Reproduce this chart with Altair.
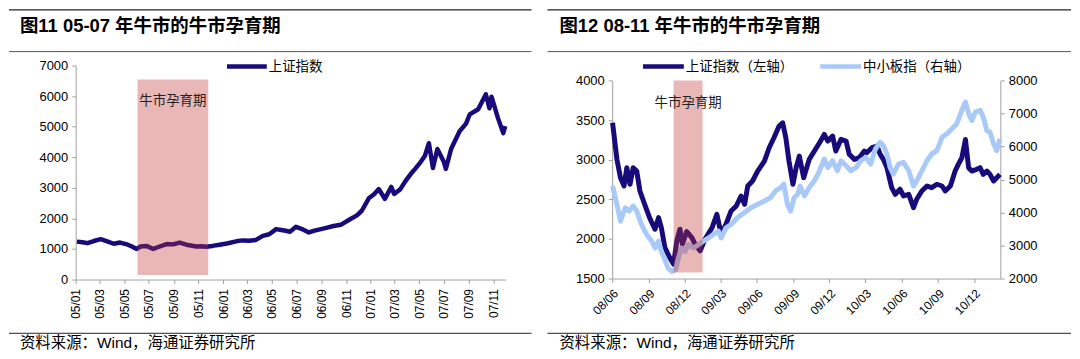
import altair as alt
import pandas as pd

FONT = "Liberation Sans, Noto Sans CJK SC"
NAVY = "#170B7B"
LIGHT = "#A9C9F9"
SHADE = "#C0302F"
AX = "#A0A0A0"

# ---------------- left panel data (上证指数 2005-2007) ----------------
l_dates = [
    "2005-01-04", "2005-01-18", "2005-01-30", "2005-02-15", "2005-03-04", "2005-03-20",
    "2005-04-05", "2005-04-21", "2005-05-10", "2005-05-20", "2005-06-01", "2005-06-10",
    "2005-06-25", "2005-07-12", "2005-07-28", "2005-08-14", "2005-08-30", "2005-09-15",
    "2005-10-02", "2005-10-27", "2005-11-08", "2005-11-20", "2005-12-05", "2005-12-23",
    "2006-01-10", "2006-02-02", "2006-02-18", "2006-03-07", "2006-03-22", "2006-04-09",
    "2006-04-25", "2006-05-12", "2006-05-25", "2006-06-05", "2006-06-15", "2006-06-30",
    "2006-07-15", "2006-08-01", "2006-08-15", "2006-09-13", "2006-10-01", "2006-10-19",
    "2006-11-12", "2006-11-28", "2006-12-10", "2006-12-28", "2007-01-10", "2007-01-21",
    "2007-02-05", "2007-02-21", "2007-02-28", "2007-03-15", "2007-03-28", "2007-04-10",
    "2007-04-21", "2007-05-05", "2007-05-15", "2007-05-25", "2007-06-04", "2007-06-15",
    "2007-07-01", "2007-07-06", "2007-07-19", "2007-08-09", "2007-08-25", "2007-09-03",
    "2007-09-24", "2007-10-13", "2007-10-22", "2007-10-27", "2007-11-12", "2007-11-25",
    "2007-11-30",
]
l_sh = [
    1240, 1220, 1190, 1260, 1320, 1250,
    1170, 1210, 1140, 1080, 1000, 1080,
    1100, 1000, 1080, 1160, 1150, 1210,
    1140, 1080, 1090, 1075, 1100, 1140,
    1180, 1250, 1280, 1270, 1290, 1430,
    1480, 1650, 1620, 1596, 1560, 1726,
    1650, 1540, 1600, 1690, 1750, 1790,
    1980, 2100, 2250, 2670, 2800, 2960,
    2640, 3030, 2800, 2950, 3220, 3450,
    3620, 3850, 4040, 4460, 3650, 4270,
    3850, 3620, 4270, 4850, 5100, 5400,
    5570, 6060, 5600, 5980, 5280, 4790,
    5020,
]
l_period = ["2005-06-03", "2005-11-25"]
l_period_range = [150, 6540]
l_ticks = ["2005-01", "2005-03", "2005-05", "2005-07", "2005-09", "2005-11",
           "2006-01", "2006-03", "2006-05", "2006-07", "2006-09", "2006-11",
           "2007-01", "2007-03", "2007-05", "2007-07", "2007-09", "2007-11"]

# ---------------- right panel data (2008-2011) ----------------
r_sh_dates = [
    "2008-06-02", "2008-06-13", "2008-06-22", "2008-07-01", "2008-07-08", "2008-07-16",
    "2008-07-24", "2008-08-02", "2008-08-10", "2008-08-19", "2008-08-28", "2008-09-05",
    "2008-09-17", "2008-09-26", "2008-10-03", "2008-10-12", "2008-10-24", "2008-11-03",
    "2008-11-11", "2008-11-19", "2008-11-25", "2008-12-06", "2008-12-19", "2008-12-27",
    "2009-01-09", "2009-01-21", "2009-02-08", "2009-02-20", "2009-03-03", "2009-03-15",
    "2009-03-28", "2009-04-10", "2009-04-22", "2009-05-01", "2009-05-09", "2009-05-21",
    "2009-06-03", "2009-06-20", "2009-07-02", "2009-07-14", "2009-07-27", "2009-08-05",
    "2009-08-13", "2009-08-21", "2009-08-31", "2009-09-08", "2009-09-16", "2009-09-27",
    "2009-10-11", "2009-10-24", "2009-11-06", "2009-11-18", "2009-11-27", "2009-12-09",
    "2009-12-17", "2009-12-30", "2010-01-12", "2010-01-20", "2010-02-02", "2010-02-14",
    "2010-02-27", "2010-03-05", "2010-03-18", "2010-03-31", "2010-04-08", "2010-04-16",
    "2010-04-25", "2010-05-07", "2010-05-16", "2010-05-28", "2010-06-06", "2010-06-19",
    "2010-07-01", "2010-07-09", "2010-07-22", "2010-08-04", "2010-08-16", "2010-08-29",
    "2010-09-11", "2010-09-19", "2010-10-02", "2010-10-14", "2010-10-22", "2010-10-31",
    "2010-11-09", "2010-11-17", "2010-11-25", "2010-12-07", "2010-12-16", "2010-12-24",
    "2011-01-02", "2011-01-10", "2011-01-19", "2011-01-27", "2011-02-04",
]
r_sh = [
    3466, 3004, 2773, 2668, 2899, 2690,
    2899, 2857, 2605, 2479, 2353, 2248,
    2122, 2269, 2143, 1890, 1765, 1681,
    1975, 2122, 1934, 2092, 2017, 1934,
    1849, 1996, 2143, 2311, 2059, 2185,
    2353, 2416, 2542, 2437, 2668, 2731,
    2857, 2983, 3151, 3277, 3424, 3466,
    3277, 2983, 2690, 2899, 3046, 2773,
    3004, 3109, 3214, 3319, 3235, 3298,
    3109, 3256, 3235, 3068, 3004, 3025,
    3109, 3088, 3151, 3172, 3068, 3004,
    2899, 2647, 2563, 2627, 2542, 2563,
    2395, 2500, 2605, 2668, 2647, 2690,
    2668, 2605, 2668, 2857, 2941, 3025,
    3256, 2899, 2857, 2878, 2899, 2815,
    2857, 2815, 2731, 2773, 2815,
]
r_sme_dates = [
    "2008-06-02", "2008-06-13", "2008-06-22", "2008-07-04", "2008-07-14", "2008-07-24",
    "2008-08-02", "2008-08-14", "2008-08-27", "2008-09-09", "2008-09-17", "2008-09-26",
    "2008-10-03", "2008-10-12", "2008-10-20", "2008-10-30", "2008-11-08", "2008-11-15",
    "2008-11-23", "2008-12-02", "2008-12-10", "2008-12-23", "2009-01-05", "2009-01-17",
    "2009-01-30", "2009-02-11", "2009-02-24", "2009-03-03", "2009-03-15", "2009-03-28",
    "2009-04-13", "2009-04-30", "2009-05-17", "2009-06-03", "2009-06-20", "2009-07-05",
    "2009-07-18", "2009-07-31", "2009-08-08", "2009-08-17", "2009-08-25", "2009-09-03",
    "2009-09-12", "2009-09-18", "2009-09-29", "2009-10-11", "2009-10-24", "2009-11-06",
    "2009-11-18", "2009-11-27", "2009-12-09", "2009-12-21", "2009-12-30", "2010-01-12",
    "2010-01-24", "2010-02-06", "2010-02-18", "2010-03-03", "2010-03-15", "2010-03-27",
    "2010-04-08", "2010-04-16", "2010-04-25", "2010-05-03", "2010-05-11", "2010-05-24",
    "2010-06-06", "2010-06-19", "2010-07-01", "2010-07-09", "2010-07-22", "2010-08-04",
    "2010-08-16", "2010-08-29", "2010-09-11", "2010-09-23", "2010-10-06", "2010-10-18",
    "2010-10-31", "2010-11-09", "2010-11-17", "2010-11-25", "2010-12-04", "2010-12-16",
    "2010-12-24", "2011-01-02", "2011-01-10", "2011-01-19", "2011-01-27", "2011-02-04",
]
r_sme = [
    4807, 4248, 3739, 4145, 4044, 4196,
    4044, 3638, 3333, 3129, 2924, 3129,
    2824, 2570, 2314, 2214, 2265, 2619,
    2924, 2824, 3028, 2924, 3028, 3129,
    3229, 3333, 3434, 3229, 3534, 3638,
    3840, 3993, 4145, 4248, 4349, 4450,
    4654, 4755, 4858, 4248, 4044, 4450,
    4553, 4800, 4500, 4755, 4959, 5264,
    5621, 5365, 5569, 5264, 5569, 5417,
    5264, 5365, 5569, 5670, 5468, 5926,
    6127, 6027, 5774, 5365, 5160, 5468,
    5518, 5264, 4800, 4959, 5264, 5569,
    5774, 5874, 6280, 6383, 6536, 6689,
    7095, 7348, 6994, 6790, 7043, 7095,
    6890, 6484, 6432, 6079, 5874, 6231,
]
r_period = ["2008-11-03", "2009-01-15"]
r_period_range = [2180, 8000]  # in right-axis units
r_ticks = ["2008-06", "2008-09", "2008-12", "2009-03", "2009-06", "2009-09",
           "2009-12", "2010-03", "2010-06", "2010-09", "2010-12"]

titles = ["图11 05-07 年牛市的牛市孕育期", "图12 08-11 年牛市的牛市孕育期"]
source = "资料来源：Wind，海通证券研究所"
period_label = "牛市孕育期"
legend_left = ["上证指数"]
legend_right = ["上证指数（左轴）", "中小板指（右轴）"]


def dt(s):
    y, m = int(s[:4]), int(s[5:7])
    d = int(s[8:10]) if len(s) > 7 else 1
    return alt.DateTime(year=y, month=m, date=d)


one = pd.DataFrame({"k": [0]})


def deco(x0, x1, tx, title):
    # y positions relative to the shared plot top (page y = 64)
    rule_top = alt.Chart(one).mark_rule(color="#222222", strokeWidth=1.3).encode(
        x=alt.value(x0), x2=alt.value(x1), y=alt.value(-56))
    rule_mid = alt.Chart(one).mark_rule(color="#555555", strokeWidth=1).encode(
        x=alt.value(x0), x2=alt.value(x1), y=alt.value(-14))
    rule_bot = alt.Chart(one).mark_rule(color="#222222", strokeWidth=1).encode(
        x=alt.value(x0), x2=alt.value(x1), y=alt.value(269))
    ttl = alt.Chart(one).mark_text(align="left", baseline="middle", font=FONT,
                                   fontSize=18.5, fontWeight="bold", color="#000000").encode(
        x=alt.value(tx), y=alt.value(-40), text=alt.value(title))
    src = alt.Chart(one).mark_text(align="left", baseline="middle", font=FONT,
                                   fontSize=15.5, color="#000000").encode(
        x=alt.value(tx), y=alt.value(279), text=alt.value(source))
    return [rule_top, rule_mid, rule_bot, ttl, src]


def legend_item(x0, x1, y, color, label, sw):
    r = alt.Chart(one).mark_rule(color=color, strokeWidth=sw).encode(
        x=alt.value(x0), x2=alt.value(x1), y=alt.value(y))
    t = alt.Chart(one).mark_text(align="left", baseline="middle", font=FONT,
                                 fontSize=13.5, color="#000000").encode(
        x=alt.value(x1 + 2), y=alt.value(y), text=alt.value(label))
    return [r, t]


def yaxis(vals, orient):
    return alt.Axis(orient=orient, values=vals, format="d", labelFont=FONT, labelFontSize=13,
                    labelColor="#000000", labelPadding=4, labelOverlap=False, domainColor=AX,
                    tickColor=AX, tickSize=4, grid=False, title=None)


def xaxis(vals, angle, align, baseline):
    return alt.Axis(values=[dt(t) for t in vals], format="%y/%m", labelAngle=angle,
                    labelAlign=align, labelBaseline=baseline, labelOverlap=False,
                    labelFont=FONT, labelFontSize=12, labelColor="#000000", labelPadding=5,
                    domainColor=AX, tickColor=AX, tickSize=4, grid=False, title=None)


# ---------------- left panel ----------------
dfL = pd.DataFrame({"date": pd.to_datetime(l_dates), "v": l_sh})
perL = pd.DataFrame({"start": pd.to_datetime([l_period[0]]), "end": pd.to_datetime([l_period[1]]),
                     "lo": [l_period_range[0]], "hi": [l_period_range[1]]})
perL["mid"] = perL["start"] + (perL["end"] - perL["start"]) / 2

xscaleL = alt.Scale(domain=[dt("2005-01-01"), dt("2007-12-01")])
yscaleL = alt.Scale(domain=[0, 7000], nice=False)
xaxL = xaxis(l_ticks, 270, "right", "middle")
yaxL = yaxis(list(range(0, 7001, 1000)), "left")

lineL = alt.Chart(dfL).mark_line(color=NAVY, strokeWidth=4.5, strokeJoin="round").encode(
    x=alt.X("date:T", scale=xscaleL, axis=xaxL),
    y=alt.Y("v:Q", scale=yscaleL, axis=yaxL))
rectL = alt.Chart(perL).mark_rect(color=SHADE, opacity=0.35).encode(
    x=alt.X("start:T", scale=xscaleL, axis=xaxL), x2="end:T",
    y=alt.Y("lo:Q", scale=yscaleL, axis=yaxL), y2="hi:Q")
textL = alt.Chart(perL).mark_text(font=FONT, fontSize=13.5, color="#222222", baseline="middle").encode(
    x=alt.X("mid:T", scale=xscaleL, axis=xaxL), y=alt.value(36), text=alt.value(period_label))

left = alt.layer(
    lineL, rectL, textL,
    *legend_item(152, 192, 1, NAVY, legend_left[0], 4.5),
    *deco(-67, 458, -56, titles[0]),
).properties(width=432, height=215)

# ---------------- right panel ----------------
dfR1 = pd.DataFrame({"date": pd.to_datetime(r_sh_dates), "v": r_sh})
dfR2 = pd.DataFrame({"date": pd.to_datetime(r_sme_dates), "v": r_sme})
perR = pd.DataFrame({"start": pd.to_datetime([r_period[0]]), "end": pd.to_datetime([r_period[1]]),
                     "lo": [r_period_range[0]], "hi": [r_period_range[1]]})
perR["mid"] = perR["start"] + (perR["end"] - perR["start"]) / 2

RH = 214
xscaleR = alt.Scale(domain=[dt("2008-06-01"), dt("2011-02-05")])
yscaleR1 = alt.Scale(domain=[1500, 4000], nice=False, range=[RH, 15])
yscaleR2 = alt.Scale(domain=[2000, 8000], nice=False, range=[RH, 15])
xaxR = xaxis(r_ticks, 315, "right", "top")
yaxR1 = yaxis(list(range(1500, 4001, 500)), "left")
yaxR2 = yaxis(list(range(2000, 8001, 1000)), "right")

lineR1 = alt.Chart(dfR1).mark_line(color=NAVY, strokeWidth=5, strokeJoin="round").encode(
    x=alt.X("date:T", scale=xscaleR, axis=xaxR),
    y=alt.Y("v:Q", scale=yscaleR1, axis=yaxR1))
lineR2 = alt.Chart(dfR2).mark_line(color=LIGHT, strokeWidth=5, strokeJoin="round").encode(
    x=alt.X("date:T", scale=xscaleR, axis=xaxR),
    y=alt.Y("v:Q", scale=yscaleR2, axis=yaxR2))
rectR = alt.Chart(perR).mark_rect(color=SHADE, opacity=0.35).encode(
    x=alt.X("start:T", scale=xscaleR, axis=xaxR), x2="end:T",
    y=alt.Y("lo:Q", scale=yscaleR2, axis=yaxR2), y2="hi:Q")
textR = alt.Chart(perR).mark_text(font=FONT, fontSize=13.5, color="#222222", baseline="middle").encode(
    x=alt.X("mid:T", scale=xscaleR, axis=xaxR), y=alt.value(38), text=alt.value(period_label))

right = alt.layer(
    lineR1,
    alt.layer(lineR2, rectR, textR),
    *legend_item(31, 72, 1, NAVY, legend_right[0], 4.5),
    *legend_item(209, 250, 1, LIGHT, legend_right[1], 4.5),
    *deco(-65, 461, -53, titles[1]),
).resolve_scale(y="independent").properties(width=390, height=RH)

chart = alt.hconcat(left, right, spacing=14, padding=0).configure_view(stroke=None)
chart.save("out.html", embed_options={"renderer": "svg", "actions": False})
